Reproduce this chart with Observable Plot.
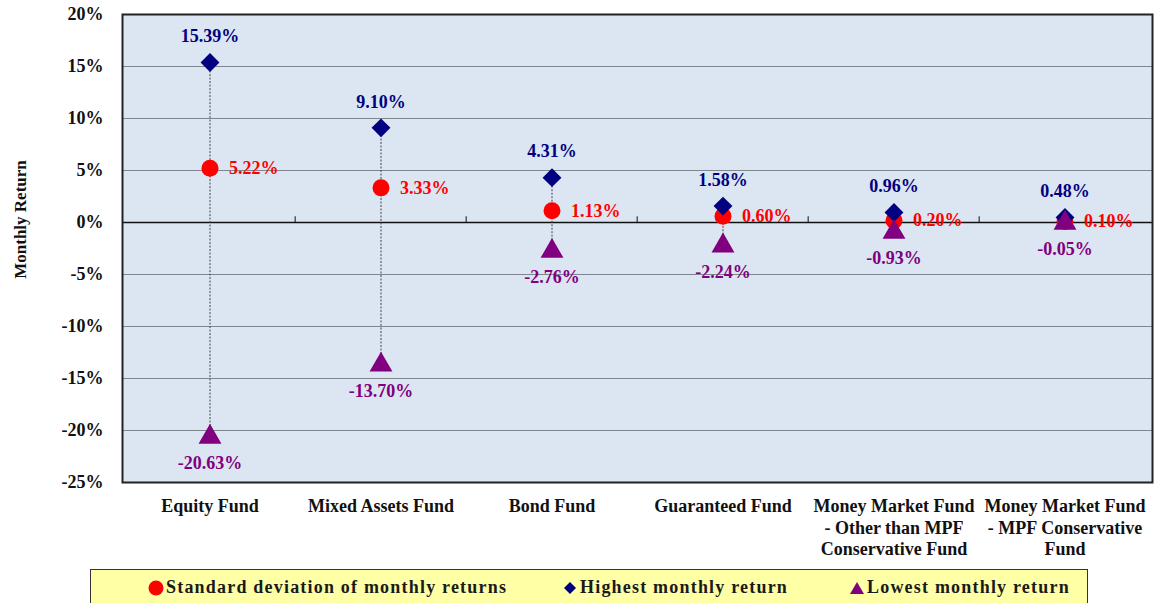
<!DOCTYPE html>
<html>
<head>
<meta charset="utf-8">
<script src="https://cdn.jsdelivr.net/npm/d3@7"></script>
<script src="https://cdn.jsdelivr.net/npm/@observablehq/plot@0.6"></script>
<style>
  html, body { margin: 0; padding: 0; background: #fff; }
  body { width: 1160px; height: 603px; overflow: hidden; font-family: "Liberation Serif", "Times New Roman", serif; }
  #legend {
    position: absolute; left: 90px; top: 569px; width: 998px; height: 40px;
    background: #ffffa6; border: 1.5px solid #333; box-sizing: border-box;
    font-weight: bold; font-size: 18px; color: #1a1a1a; letter-spacing: 1.2px;
  }
  #legend .item { position: absolute; top: 7px; white-space: nowrap; display: flex; align-items: center; }
  #legend svg { margin-right: 2px; }
</style>
</head>
<body>
<div id="chart"></div>
<div id="legend"></div>
<script>
const categories = [
  "Equity Fund",
  "Mixed Assets Fund",
  "Bond Fund",
  "Guaranteed Fund",
  "Money Market Fund\n- Other than MPF\nConservative Fund",
  "Money Market Fund\n- MPF Conservative\nFund"
];
const stdValues = [5.22, 3.33, 1.13, 0.60, 0.20, 0.10];
const highValues = [15.39, 9.10, 4.31, 1.58, 0.96, 0.48];
const lowValues = [-20.63, -13.70, -2.76, -2.24, -0.93, -0.05];
const yTicks = [20, 15, 10, 5, 0, -5, -10, -15, -20, -25];
const seriesNames = ["Standard deviation of monthly returns", "Highest monthly return", "Lowest monthly return"];

const rows = categories.map((c, i) => ({cat: c, std: stdValues[i], high: highValues[i], low: lowValues[i]}));
const boundaries = categories.slice(1);

const W = 1160, H = 570;
const mL = 122, mR = 8, mT = 14, mB = 88;
const bandHalf = (W - mL - mR) / categories.length / 2;
const font = "Liberation Serif, Times New Roman, serif";

const plot = Plot.plot({
  width: W, height: H,
  marginLeft: mL, marginRight: mR, marginTop: mT, marginBottom: mB,
  style: {fontFamily: font, fontSize: "18px", fontWeight: "bold", color: "#111", background: "#fff"},
  x: {type: "band", domain: categories, padding: 0, label: null},
  y: {domain: [-25, 20], label: null},
  marks: [
    Plot.frame({fill: "#dce6f2", stroke: "none"}),
    Plot.ruleY(yTicks.filter(d => d !== 0 && d !== 20 && d !== -25), {stroke: "#80868e", strokeWidth: 1}),
    Plot.ruleY([0], {stroke: "#111", strokeWidth: 1.3}),
    Plot.ruleX(boundaries, {x: d => d, y1: 0, y2: 0.55, dx: -bandHalf, stroke: "#111", strokeWidth: 1}),
    Plot.frame({stroke: "#222", strokeWidth: 2}),
    Plot.axisY(yTicks, {tickSize: 0, tickPadding: 19, tickFormat: d => d + "%", fontSize: 18, fontWeight: "bold"}),
    Plot.axisX({tickSize: 0, tickPadding: 15, fontSize: 18, fontWeight: "bold", lineHeight: 1.17}),
    Plot.text(["Monthly Return"], {frameAnchor: "left", textAnchor: "middle", dx: -102, dy: -29, rotate: -90, fontSize: 17, fontWeight: "bold", fill: "#111"}),
    Plot.ruleX(rows, {x: "cat", y1: "low", y2: "high", stroke: "#444", strokeWidth: 1, strokeDasharray: "2,1.5"}),
    Plot.dot(rows, {x: "cat", y: "std", r: 8.5, fill: "#ff0000", stroke: "none", symbol: "circle"}),
    Plot.dot(rows, {x: "cat", y: "high", r: 8.5, fill: "#000080", stroke: "none", symbol: "diamond2"}),
    Plot.dot(rows, {x: "cat", y: "low", r: 8.5, fill: "#800080", stroke: "none", symbol: "triangle"}),
    Plot.text(rows, {x: "cat", y: "high", text: d => d.high.toFixed(2) + "%", dy: -26, fill: "#000080", fontSize: 18, fontWeight: "bold"}),
    Plot.text(rows, {x: "cat", y: "std", text: d => d.std.toFixed(2) + "%", dx: 19, textAnchor: "start", fill: "#ff0000", fontSize: 18, fontWeight: "bold"}),
    Plot.text(rows, {x: "cat", y: "low", text: d => d.low.toFixed(2) + "%", dy: 26, fill: "#800080", fontSize: 18, fontWeight: "bold"})
  ]
});
document.getElementById("chart").appendChild(plot);

const legend = document.getElementById("legend");
const legendItems = [
  {shape: '<circle cx="8" cy="8" r="7.5" fill="#ff0000"/>', left: 57},
  {shape: '<path d="M8,2 L14,8 L8,14 L2,8 Z" fill="#000080"/>', left: 471},
  {shape: '<path d="M8,2 L15,14 L1,14 Z" fill="#800080"/>', left: 758}
];
legendItems.forEach((it, i) => {
  const s = document.createElement("div");
  s.className = "item";
  s.style.left = it.left + "px";
  s.innerHTML = `<svg width="16" height="16" viewBox="0 0 16 16">${it.shape}</svg><span>${seriesNames[i]}</span>`;
  legend.appendChild(s);
});
</script>
</body>
</html>
